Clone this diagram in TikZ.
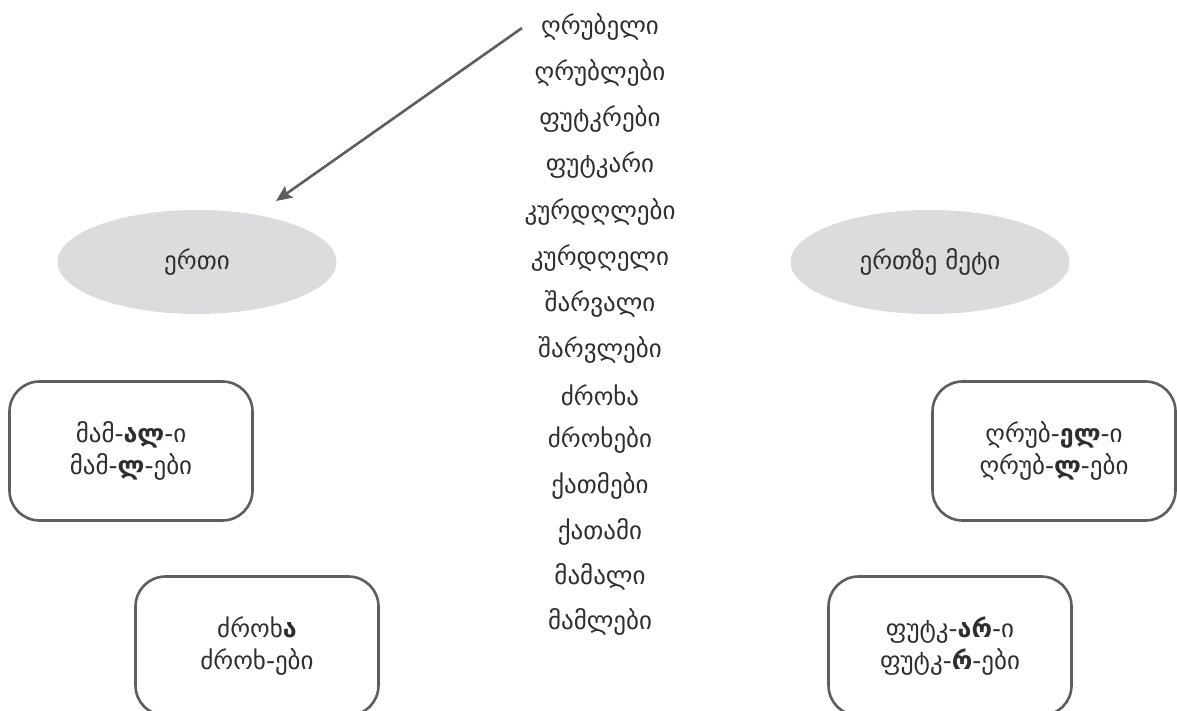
\documentclass[tikz,border=0pt]{standalone}
\usepackage{fontspec}
\setmainfont{DejaVu Sans}
\usetikzlibrary{arrows.meta,shapes.geometric}
\definecolor{txt}{HTML}{2E2E2E}
\definecolor{ell}{HTML}{DCDCDE}
\definecolor{edge}{HTML}{5E5E5E}
\tikzset{
  word/.style={text=txt,font=\fontsize{25}{30}\selectfont,inner sep=0pt,anchor=center},
  oval/.style={ellipse,fill=ell,draw=none,minimum width=279pt,minimum height=104pt,text=txt,font=\fontsize{25}{30}\selectfont},
  rbox/.style={draw=edge,line width=2.6pt,rounded corners=30pt,minimum width=243pt,minimum height=139pt,text=txt,font=\fontsize{25}{30}\selectfont,align=center},
  conn/.style={draw=edge,line width=2.6pt,-{Stealth[length=16pt,width=14pt,inset=3pt]}}
}
\begin{document}
\begin{tikzpicture}[x=1pt,y=-1pt]
\useasboundingbox (0,0) rectangle (1177,711);
\begin{scope}
\clip (0,0) rectangle (1177,711);
\node[word] (w1) at (600,27) {ღრუბელი};
\node[word] (w2) at (600,73) {ღრუბლები};
\node[word] (w3) at (600,119) {ფუტკრები};
\node[word] (w4) at (600,165) {ფუტკარი};
\node[word] (w5) at (600,212) {კურდღლები};
\node[word] (w6) at (600,258) {კურდღელი};
\node[word] (w7) at (600,304) {შარვალი};
\node[word] (w8) at (600,350) {შარვლები};
\node[word] (w9) at (600,395) {ძროხა};
\node[word] (w10) at (600,440) {ძროხები};
\node[word] (w11) at (600,486) {ქათმები};
\node[word] (w12) at (600,532) {ქათამი};
\node[word] (w13) at (600,577) {მამალი};
\node[word] (w14) at (600,622) {მამლები};
\node[oval] (one) at (197,262) {ერთი};
\node[oval] (many) at (930,262) {ერთზე მეტი};
\node[rbox] (b1) at (131,451) {მამ-\textbf{ალ}-ი\\[2pt]მამ-\textbf{ლ}-ები};
\node[rbox] (b2) at (257,646) {ძროხ\textbf{ა}\\[2pt]ძროხ-ები};
\node[rbox] (b3) at (1054,451) {ღრუბ-\textbf{ელ}-ი\\[2pt]ღრუბ-\textbf{ლ}-ები};
\node[rbox] (b4) at (950,646) {ფუტკ-\textbf{არ}-ი\\[2pt]ფუტკ-\textbf{რ}-ები};
\coordinate (s) at (522,28);
\coordinate (t) at (276,201);
\draw[conn] (s) -- (t);
\end{scope}
\end{tikzpicture}
\end{document}
